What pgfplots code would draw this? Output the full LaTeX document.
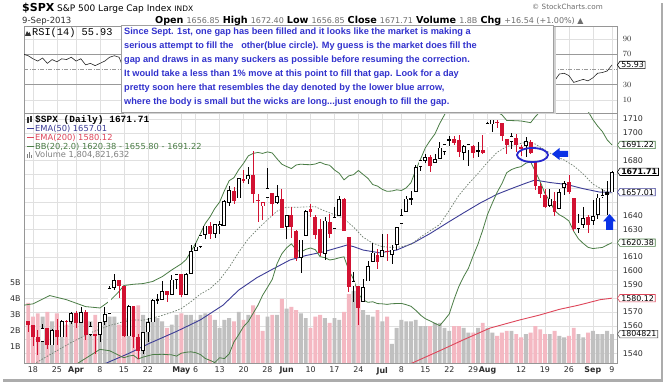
\documentclass[border=0pt]{standalone}
\usepackage{fontspec}
\setmainfont{DejaVu Sans}
\newfontfamily\arial{Liberation Sans}
\newfontfamily\cour{Liberation Mono}
\usepackage{pgfplots}
\pgfplotsset{compat=1.18}
\usepackage{pgfplotstable}
\usetikzlibrary{shapes.symbols}
\newcommand{\fs}[1]{\fontsize{#1}{#1}\selectfont}
\definecolor{gridc}{RGB}{224,224,224}
\definecolor{framec}{RGB}{150,150,150}
\definecolor{candred}{RGB}{210,18,50}
\definecolor{volpink}{RGB}{244,184,194}
\definecolor{volgray}{RGB}{192,192,192}
\definecolor{emablue}{RGB}{60,60,150}
\definecolor{emared}{RGB}{222,70,90}
\definecolor{bbgreen}{RGB}{75,125,70}
\definecolor{midc}{RGB}{110,125,110}
\definecolor{annblue}{RGB}{50,50,205}
\definecolor{labc}{RGB}{45,45,45}
\definecolor{valc}{RGB}{110,110,110}
\definecolor{arrowblue}{RGB}{10,50,230}
\definecolor{ringblue}{RGB}{40,40,205}

% hollow black candles (close>open, close>=prev close)
\pgfplotstableread{
i o h l c v
2 1548.34 1561.56 1548.34 1558.71 2.9
4 1545.90 1557.74 1545.90 1556.89 2.6
6 1551.69 1563.95 1551.69 1563.77 2.6
8 1562.86 1570.28 1561.08 1569.19 2.9
10 1562.17 1573.66 1562.17 1570.25 2.6
12 1553.69 1562.60 1552.52 1559.98 2.6
14 1553.26 1563.07 1548.63 1563.07 2.4
15 1563.11 1573.89 1560.92 1568.61 2.6
16 1568.61 1589.07 1568.61 1587.73 2.9
17 1587.73 1597.35 1586.17 1593.37 2.9
20 1552.36 1575.35 1552.36 1574.57 2.8
23 1541.61 1555.89 1539.40 1555.25 3.0
24 1555.25 1565.55 1548.19 1562.50 2.6
25 1562.50 1579.58 1562.50 1578.78 3.1
26 1578.78 1583.00 1575.80 1578.79 2.8
27 1578.78 1592.64 1578.78 1585.16 2.6
29 1582.34 1596.65 1582.34 1593.61 2.4
30 1593.58 1597.57 1586.50 1597.57 3.0
32 1582.77 1598.60 1582.77 1597.59 3.0
33 1597.60 1618.46 1597.60 1614.42 3.0
34 1614.40 1619.77 1614.21 1617.50 2.7
35 1617.55 1626.03 1616.64 1625.96 3.0
36 1625.95 1632.78 1622.70 1632.69 3.1
38 1626.69 1633.70 1623.71 1633.70 2.7
39 1632.10 1636.00 1626.74 1633.77 2.2
40 1632.69 1651.10 1632.69 1650.34 2.7
41 1649.13 1661.49 1646.68 1658.78 2.8
43 1652.45 1667.47 1652.45 1667.47 3.2
45 1666.20 1674.93 1662.67 1669.16 3.0
49 1652.63 1674.21 1652.63 1660.06 2.9
51 1649.14 1661.91 1648.61 1654.41 3.0
53 1631.71 1640.42 1622.72 1640.42 3.4
56 1609.29 1622.56 1598.23 1622.56 3.1
57 1625.27 1644.40 1625.27 1643.38 2.8
61 1612.15 1639.25 1608.07 1636.36 2.8
63 1630.64 1646.50 1630.34 1639.04 2.8
64 1639.77 1654.19 1639.77 1651.81 2.7
67 1588.62 1599.19 1577.70 1592.43 4.5
69 1577.52 1593.79 1577.09 1588.03 3.3
70 1592.27 1606.83 1592.27 1603.26 3.0
71 1606.44 1620.07 1606.44 1613.20 2.9
73 1609.78 1626.61 1609.78 1614.96 2.6
75 1611.48 1618.97 1604.57 1615.41 1.2
76 1618.65 1632.07 1614.71 1631.89 2.2
77 1634.20 1644.68 1634.20 1640.46 2.7
78 1642.89 1654.18 1642.89 1652.32 2.6
79 1651.56 1657.92 1647.66 1652.62 2.6
80 1657.41 1676.63 1657.41 1675.02 2.7
81 1675.26 1680.19 1672.33 1680.19 2.3
82 1679.59 1684.51 1677.89 1682.50 2.3
84 1677.91 1684.75 1677.91 1680.91 2.5
85 1681.05 1693.12 1681.05 1689.37 2.5
86 1686.15 1692.09 1684.08 1692.09 2.2
87 1694.41 1697.61 1690.67 1695.53 2.0
90 1685.21 1690.94 1680.07 1690.25 2.2
91 1687.31 1691.85 1676.03 1691.65 1.9
95 1689.42 1707.85 1689.42 1706.87 2.2
96 1706.10 1709.67 1700.68 1709.67 1.9
100 1693.35 1700.18 1688.38 1697.48 2.0
103 1690.65 1696.81 1682.62 1694.16 1.8
108 1646.81 1658.92 1646.08 1652.35 1.8
110 1645.03 1659.55 1645.03 1656.96 1.7
111 1659.92 1664.85 1654.81 1663.50 1.6
114 1630.25 1641.18 1627.47 1634.96 1.8
115 1633.50 1646.41 1630.88 1638.17 1.6
117 1635.95 1651.35 1633.41 1639.77 2.0
118 1640.72 1655.72 1637.41 1653.08 1.8
119 1653.28 1659.17 1653.07 1655.08 1.8
121 1656.85 1672.40 1656.85 1671.71 1.80
}\tHB

% filled red candles (close<open, close<prev close)
\pgfplotstableread{
i o h l c v
-1 1563.21 1563.62 1555.74 1560.70 3.75
0 1560.70 1560.70 1545.13 1552.10 2.9
1 1552.10 1557.25 1538.57 1548.34 3.1
3 1558.71 1558.71 1543.55 1545.80 3.2
5 1556.89 1564.91 1546.22 1551.69 3.1
7 1563.75 1564.07 1551.90 1562.85 2.4
9 1569.18 1570.57 1558.47 1562.17 2.5
11 1570.25 1571.47 1549.80 1553.69 3.1
13 1553.69 1553.69 1539.50 1553.28 3.0
18 1593.30 1593.30 1579.97 1588.85 2.4
19 1588.84 1588.84 1552.28 1552.36 3.2
21 1574.57 1574.57 1543.69 1552.01 3.5
22 1552.03 1554.38 1536.03 1541.61 3.6
28 1585.03 1585.03 1577.56 1582.24 2.2
31 1597.55 1597.55 1581.28 1582.70 3.1
37 1632.69 1635.01 1623.09 1626.67 3.0
42 1658.07 1660.51 1648.60 1650.47 2.6
46 1669.39 1687.18 1648.86 1655.35 3.6
47 1651.62 1655.50 1635.53 1650.51 3.0
50 1656.57 1656.57 1640.05 1648.36 3.0
52 1652.13 1658.99 1630.74 1630.74 4.0
54 1640.73 1646.53 1623.62 1631.38 3.5
55 1629.05 1629.31 1607.09 1608.90 3.3
58 1644.67 1648.69 1639.26 1642.81 2.2
59 1638.64 1640.13 1622.92 1626.13 2.9
60 1629.94 1637.71 1610.92 1612.52 3.0
62 1635.52 1640.80 1623.96 1626.73 2.5
65 1651.83 1652.45 1628.91 1628.93 3.2
66 1624.62 1624.62 1584.32 1588.19 4.3
68 1588.77 1588.77 1560.33 1573.09 4.0
72 1611.12 1615.94 1601.06 1606.28 3.3
74 1614.29 1626.43 1606.73 1614.08 2.9
83 1682.70 1683.73 1671.84 1676.26 2.3
88 1695.42 1697.86 1691.38 1692.39 2.3
89 1695.00 1698.38 1682.57 1685.94 2.3
92 1690.32 1690.92 1681.86 1685.33 1.9
94 1687.76 1698.43 1684.94 1685.73 2.5
97 1708.01 1709.24 1703.55 1707.14 1.7
98 1707.34 1707.34 1694.17 1697.37 1.9
99 1695.30 1695.30 1684.91 1690.91 2.0
101 1696.10 1699.42 1686.02 1691.42 1.8
104 1693.35 1695.05 1684.87 1685.39 1.9
105 1679.61 1679.61 1658.59 1661.32 2.3
106 1661.22 1663.60 1652.61 1655.83 2.1
107 1655.25 1659.18 1645.84 1646.06 1.8
109 1650.66 1656.99 1639.43 1642.80 2.0
112 1664.29 1669.51 1656.02 1656.78 1.7
113 1652.54 1652.54 1629.05 1630.48 2.2
116 1638.89 1640.08 1627.47 1632.97 1.9
}\tRF

% hollow red candles
\pgfplotstableread{
i o h l c v
44 1665.71 1672.84 1663.52 1666.29 2.7
48 1646.67 1649.78 1636.88 1649.60 2.0
102 1688.37 1691.49 1683.35 1689.47 1.6
}\tHR

% filled black candles
\pgfplotstableread{
i o h l c v
93 1687.92 1693.19 1682.42 1685.96 2.2
120 1657.44 1664.83 1640.62 1655.17 2.0
}\tFB

\pgfplotsset{
 panel/.style={scale only axis, anchor=south west, width=593pt, xmin=-1.88, xmax=122.05, clip mode=individual},
 ebar/.style 2 args={draw=none, mark=none, forget plot, error bars/.cd, y dir=both, y explicit, error mark=none, error bar style={draw=#1, line width=#2}},
 vbar/.style={ybar, bar width=3.9pt, bar shift=0pt, fill=#1, draw=none, forget plot},
}
\tikzset{
 tag/.style={shape=signal, signal to=west, signal pointer angle=110, draw=#1, fill=white, line width=0.6pt, inner xsep=1.3pt, inner ysep=0.7pt, font=\fs{7.9}, anchor=west, text=black},
}
\newcommand{\xt}{0,5,9,14,19,24,31,34,39,44,49,53,58,63,68,73,77,82,87,92,95,102,107,112,117,121}

\begin{document}
\begin{tikzpicture}
\path[use as bounding box] (0pt,0pt) rectangle (664pt,382pt);
\fill[white] (0pt,0pt) rectangle (664pt,382pt);

% ---------- price grid & labels
\begin{axis}[panel, at={(24pt,19pt)}, height=250pt, ymin=1533.1, ymax=1714.4,
 ytick={1540,1550,...,1710}, yticklabel pos=right,
 yticklabels={1540,,1560,1570,,1590,1600,1610,,1630,1640,,,,1680,,1700,1710},
 xtick/.expanded={\xt},
 xticklabels={18,25,\textbf{Apr},8,15,22,\textbf{May},6,13,20,28,\textbf{Jun},10,17,24,\textbf{Jul},8,15,22,29,\textbf{Aug},12,19,26,\textbf{Sep},9},
 xmajorgrids, ymajorgrids, grid style={gridc, line width=0.5pt},
 major tick length=0pt, axis line style={framec, line width=0.6pt},
 tick label style={font=\fs{7.9}, text=labc},
 yticklabel style={xshift=2.3pt}, xticklabel style={yshift=-0.5pt}]
\addplot[draw=none, forget plot] coordinates {(0,1600)};
\end{axis}

% ---------- volume
\begin{axis}[panel, at={(24pt,19pt)}, height=250pt, ymin=0, ymax=15.625,
 axis line style={draw=none}, xtick=\empty, ytick={1,2,3,4,5}, yticklabels={1B,2B,3B,4B,5B},
 major tick length=0pt, tick label style={font=\fs{7.9}, text=labc}]
\addplot[vbar=volgray] table[x=i, y=v]{\tHB};
\addplot[vbar=volgray] table[x=i, y=v]{\tFB};
\addplot[vbar=volpink] table[x=i, y=v]{\tRF};
\addplot[vbar=volpink] table[x=i, y=v]{\tHR};
\node[tag=gray!70!black] at (axis cs:122.05,1.8048) {1804821};
\end{axis}

% ---------- price data
\begin{axis}[panel, at={(24pt,19pt)}, height=250pt, ymin=1533.1, ymax=1714.4, hide axis]
\addplot[emared, line width=0.9pt] coordinates {(70,1522) (75,1528) (79.2,1533) (85,1542) (90,1550) (95.5,1558.4) (101.6,1564.2) (106,1568) (110,1572) (114,1575) (118.5,1579) (121,1580.12)};
\addplot[emablue, line width=0.9pt] coordinates {(-2,1519) (5,1525) (10,1529) (15.3,1533) (20,1540) (24.5,1547.6) (30,1556) (34.9,1564.2) (39.7,1575) (43,1586) (46.8,1595) (50,1601) (53.7,1607.8) (57,1611) (60.6,1613.6) (63,1616) (65.6,1618.6) (67,1617.5) (69,1615) (72.5,1613) (76,1615) (79.4,1620) (83,1627) (86.5,1634.6) (90,1642) (93.4,1649) (97,1655.5) (100.3,1660) (103,1663.5) (104.9,1665.8) (108,1664) (111.6,1662.5) (115,1659.5) (118.5,1657) (121,1657.01)};
\addplot[bbgreen, line width=0.8pt] coordinates {(-2,1575) (0,1576) (3.5,1582) (7,1579) (11,1574) (14,1573) (16,1578) (18,1585) (19,1589.3) (21,1590.2) (23,1590.7) (25,1592.2) (27,1595.7) (29,1600.6) (31,1605.0) (32,1608.1) (33,1613.9) (34,1619.9) (35,1627.0) (36,1634.3) (37,1639.1) (38,1645.2) (39,1649.8) (40,1658.0) (41,1665.3) (42,1667.5) (43,1673.3) (44,1677.9) (45,1683.3) (46,1685.1) (47,1685.8) (48,1685.1) (49,1686.2) (50,1685.4) (51,1681.2) (52,1677.3) (53,1675.6) (54,1674.1) (55,1676.7) (56,1677.3) (57,1677.0) (58,1676.9) (59,1677.4) (60,1678.7) (61,1677.2) (62,1676.5) (63,1673.1) (64,1670.7) (65,1665.9) (66,1668.8) (67,1669.7) (68,1672.7) (69,1669.8) (70,1667.0) (71,1662.5) (72,1661.4) (73,1659.0) (74,1657.6) (75,1657.8) (76,1658.7) (77,1658.2) (78,1660.1) (79,1663.9) (80,1673.1) (81,1681.0) (82,1689.2) (83,1694.5) (84,1699.2) (85,1706.8) (86,1713.1) (87,1719.0) (88,1720.4) (89,1720.9) (90,1722.5) (91,1724.2) (92,1723.0) (93,1721.7) (94,1718.6) (95,1716.4) (96,1716.0) (97,1714.9) (98,1713.1) (99,1709.0) (100,1708.9) (101,1708.8) (102,1708.6) (103,1708.0) (104,1707.4) (105,1711.8) (106,1715.4) (107,1719.1) (108,1720.5) (109,1723.0) (110,1722.8) (111,1721.8) (112,1721.6) (113,1723.6) (114,1724.0) (115,1720.4) (116,1715.6) (117,1709.7) (118,1704.9) (119,1700.9) (120,1694.9) (121,1691.22)};
\addplot[midc, line width=0.7pt, dash pattern=on 1.5pt off 1.5pt] coordinates {(-2,1528) (0,1532) (4,1540) (8,1548) (12,1555) (16,1560.3) (19,1563.1) (21,1564.4) (23,1564.1) (25,1565.7) (27,1567.6) (29,1569.8) (31,1572.6) (33,1577.5) (35,1583.1) (37,1587.0) (39,1593.4) (41,1602.5) (43,1613.5) (45,1623.2) (47,1630.3) (49,1637.0) (51,1643.2) (53,1646.1) (55,1646.0) (57,1646.3) (59,1646.4) (61,1643.3) (63,1640.7) (65,1638.0) (66,1634.6) (67,1631.7) (68,1627.9) (69,1624.3) (70,1622.1) (71,1620.0) (73,1617.5) (75,1617.0) (77,1617.3) (79,1619.1) (81,1624.4) (83,1629.0) (85,1633.5) (87,1643.9) (89,1654.7) (91,1663.0) (93,1670.5) (95,1678.7) (97,1685.9) (99,1690.1) (101,1691.7) (103,1693.0) (104,1693.2) (105,1691.8) (107,1687.5) (109,1683.4) (111,1680.3) (113,1676.1) (115,1670.1) (117,1662.9) (119,1658.9) (120,1656.8) (121,1655.8)};
\addplot[bbgreen, line width=0.8pt] coordinates {(-2,1482) (0,1487) (5,1515) (9.4,1533) (14,1543) (16,1542) (19,1536.9) (20,1538.1) (21,1538.7) (22,1536.0) (23,1537.4) (25,1539.2) (27,1539.4) (29,1539.0) (30,1538.1) (31,1540.2) (32,1540.9) (33,1541.2) (34,1540.6) (35,1539.2) (36,1536.4) (37,1535.0) (38,1533.4) (39,1536.9) (40,1536.3) (41,1539.7) (42,1548.4) (43,1553.7) (44,1559.5) (45,1563.2) (46,1569.1) (47,1574.9) (48,1582.3) (49,1587.9) (50,1593.7) (51,1605.1) (52,1612.3) (53,1616.6) (54,1619.5) (55,1615.2) (56,1613.6) (57,1615.5) (58,1616.5) (59,1615.3) (60,1610.2) (61,1609.5) (62,1607.8) (63,1608.4) (64,1609.4) (65,1610.1) (66,1600.4) (67,1593.8) (68,1583.1) (69,1578.9) (70,1577.1) (71,1577.5) (72,1576.2) (73,1576.0) (74,1575.6) (75,1576.1) (76,1576.2) (77,1576.3) (78,1575.4) (79,1574.2) (80,1571.3) (81,1567.8) (82,1565.2) (83,1563.6) (84,1561.8) (85,1560.2) (86,1564.3) (87,1568.7) (88,1579.3) (89,1588.6) (90,1595.7) (91,1601.8) (92,1610.9) (93,1619.3) (94,1629.6) (95,1640.9) (96,1649.1) (97,1656.9) (98,1663.2) (99,1671.1) (100,1673.4) (101,1674.7) (102,1675.5) (103,1678.0) (104,1679.0) (105,1671.8) (106,1664.6) (107,1655.9) (108,1650.6) (109,1643.7) (110,1640.6) (111,1638.7) (112,1636.1) (113,1628.6) (114,1623.1) (115,1619.8) (116,1617.0) (117,1616.1) (118,1616.5) (119,1616.9) (120,1618.7) (121,1620.38)};
% wicks
\addplot[ebar={black}{0.65pt}] table[x=i, y expr={(\thisrow{h}+\thisrow{l})/2}, y error expr={(\thisrow{h}-\thisrow{l})/2}]{\tHB};
\addplot[ebar={black}{0.65pt}] table[x=i, y expr={(\thisrow{h}+\thisrow{l})/2}, y error expr={(\thisrow{h}-\thisrow{l})/2}]{\tFB};
\addplot[ebar={candred}{0.65pt}] table[x=i, y expr={(\thisrow{h}+\thisrow{l})/2}, y error expr={(\thisrow{h}-\thisrow{l})/2}]{\tRF};
\addplot[ebar={candred}{0.65pt}] table[x=i, y expr={(\thisrow{h}+\thisrow{l})/2}, y error expr={(\thisrow{h}-\thisrow{l})/2}]{\tHR};
% bodies
\addplot[ebar={candred}{3.8pt}] table[x=i, y expr={(\thisrow{o}+\thisrow{c})/2}, y error expr={max(abs(\thisrow{c}-\thisrow{o})/2,0.4)}]{\tRF};
\addplot[ebar={black}{3.8pt}] table[x=i, y expr={(\thisrow{o}+\thisrow{c})/2}, y error expr={max(abs(\thisrow{c}-\thisrow{o})/2,0.4)}]{\tFB};
\addplot[ebar={black}{3.8pt}] table[x=i, y expr={(\thisrow{o}+\thisrow{c})/2}, y error expr={max(abs(\thisrow{c}-\thisrow{o})/2,0.4)}]{\tHB};
\addplot[ebar={white}{2.2pt}] table[x=i, y expr={(\thisrow{o}+\thisrow{c})/2}, y error expr={max(abs(\thisrow{c}-\thisrow{o})/2-0.6,0)}]{\tHB};
\addplot[ebar={candred}{3.8pt}] table[x=i, y expr={(\thisrow{o}+\thisrow{c})/2}, y error expr={max(abs(\thisrow{c}-\thisrow{o})/2,0.4)}]{\tHR};
\addplot[ebar={white}{2.2pt}] table[x=i, y expr={(\thisrow{o}+\thisrow{c})/2}, y error expr={max(abs(\thisrow{c}-\thisrow{o})/2-0.6,0)}]{\tHR};
\node[tag=bbgreen] at (axis cs:122.05,1691.22) {1691.22};
\node[tag=black, font=\fs{7.9}\bfseries] at (axis cs:122.05,1671.71) {1671.71};
\node[tag=emablue] at (axis cs:122.05,1657.01) {1657.01};
\node[tag=bbgreen] at (axis cs:122.05,1620.38) {1620.38};
\node[tag=emared] at (axis cs:122.05,1580.12) {1580.12};
\end{axis}

% ---------- RSI
\begin{axis}[panel, at={(24pt,269pt)}, height=87pt, ymin=-7.1, ymax=107,
 ytick={10,30,70,90}, yticklabel pos=right,
 xtick/.expanded={\xt}, xticklabels={},
 xmajorgrids, ymajorgrids, grid style={gridc, line width=0.5pt},
 major tick length=0pt, axis line style={framec, line width=0.6pt},
 tick label style={font=\fs{7.9}, text=labc}, yticklabel style={xshift=2.3pt}]
\addplot[gray!80, line width=0.6pt, forget plot] coordinates {(-1.88,70) (122.05,70)};
\addplot[gray!80, line width=0.6pt, forget plot] coordinates {(-1.88,30) (122.05,30)};
\addplot[gray!80, line width=0.6pt, dash pattern=on 4pt off 1.5pt on 1pt off 1.5pt, forget plot] coordinates {(-1.88,50) (122.05,50)};
\addplot[black!85, line width=0.6pt] coordinates {(-2,70) (-1,68) (0,64) (1,61) (2,65) (3,58) (4,63) (5,60) (6,64) (7,63) (8,66) (9,61) (10,64) (11,56) (12,58) (13,55) (14,58) (15,61) (16,66) (17,68) (18,66) (19,50) (20,55)};
\addplot[black!85, line width=0.6pt] coordinates {(99,55) (100,58) (101,54) (102,53) (103,56) (104,50) (105,38) (106,36) (107,33) (108,37) (109,35) (110,44) (111,45) (112,42) (113,33) (114,35) (115,37) (116,35) (117,39) (118,45) (119,46) (120,48) (121,55.93)};
\node[tag=black] at (axis cs:122.05,55.93) {55.93};
\end{axis}

% ---------- annotation box
\fill[gray!35] (123.5pt,267.5pt) rectangle (555.5pt,354.5pt);
\draw[gray!75, fill=white, line width=0.6pt] (121pt,270pt) rectangle (553pt,357pt);
\begin{scope}[every node/.style={anchor=base west, inner sep=0pt, text=annblue, font=\arial\bfseries\fs{9.2}}]
\node at (124pt,347pt) {Since Sept. 1st, one gap has been filled and it looks like the market is making a};
\node at (124pt,333pt) {serious attempt to fill the\ \ \ other(blue circle). My guess is the market does fill the};
\node at (124pt,319pt) {gap and draws in as many suckers as possible before resuming the correction.};
\node at (124pt,305pt) {It would take a less than 1\% move at this point to fill that gap. Look for a day};
\node at (124pt,291pt) {pretty soon here that resembles the day denoted by the lower blue arrow,};
\node at (124pt,277pt) {where the body is small but the wicks are long...just enough to fill the gap.};
\end{scope}

% ---------- header
\node[anchor=base west, inner sep=0pt] at (22pt,370pt) {\fs{11}\bfseries\$SPX};
\node[anchor=base west, inner sep=0pt] at (57pt,370pt) {\fs{9}S\&P 500 Large Cap Index \fs{7.5}INDX};
\node[anchor=base west, inner sep=0pt, text=labc] at (22pt,358.5pt) {\fs{8.5}9-Sep-2013};
\node[anchor=base west, inner sep=0pt] at (155pt,358.5pt) {\fs{9.6}\textbf{Open} \textcolor{valc}{\fs{8}1656.85} \textbf{High} \textcolor{valc}{\fs{8}1672.40} \textbf{Low} \textcolor{valc}{\fs{8}1656.85} \textbf{Close} \textcolor{valc}{\fs{8}1671.71} \textbf{Volume} \textcolor{valc}{\fs{8}1.8B} \textbf{Chg} \textcolor{valc}{\fs{8}+16.54 (+1.00\%) ▲}};
\node[anchor=base west, inner sep=0pt, text=valc] at (532pt,372pt) {\fs{7.2}© StockCharts.com};

% ---------- RSI label
\fill[black!80] (25pt,346pt) -- (27pt,351pt) -- (28.5pt,348.5pt) -- (29.5pt,350pt) -- (31pt,346pt) -- cycle;
\node[anchor=base west, inner sep=0pt] at (32pt,346pt) {\cour\fs{10.3}RSI(14) 55.93};

% ---------- price legend
\fill[black!80] (27pt,259pt) rectangle (28.5pt,265pt);
\fill[black!80] (30pt,260pt) rectangle (31.5pt,266pt);
\node[anchor=base west, inner sep=0pt] at (35pt,259pt) {\cour\bfseries\fs{9.5}\$SPX (Daily) 1671.71};
\draw[emablue, line width=1.3pt] (27pt,253.3pt) -- (34pt,253.3pt);
\node[anchor=base west, inner sep=0pt, text=emablue] at (35pt,250.5pt) {\fs{8.3}EMA(50) 1657.01};
\draw[emared, line width=1.3pt] (27pt,244.3pt) -- (34pt,244.3pt);
\node[anchor=base west, inner sep=0pt, text=emared] at (35pt,241.5pt) {\fs{8.3}EMA(200) 1580.12};
\draw[bbgreen, line width=1.3pt] (27pt,235.3pt) -- (34pt,235.3pt);
\node[anchor=base west, inner sep=0pt, text=bbgreen] at (35pt,232.5pt) {\fs{8.3}BB(20,2.0) 1620.38 - 1655.80 - 1691.22};
\fill[gray] (27pt,224pt) rectangle (28.3pt,228pt);
\fill[gray] (29pt,224pt) rectangle (30.3pt,230pt);
\fill[gray] (31pt,224pt) rectangle (32.3pt,227pt);
\node[anchor=base west, inner sep=0pt, text=gray] at (35pt,224pt) {\fs{8.3}Volume 1,804,821,632};

% ---------- blue annotations
\draw[ringblue, line width=1.8pt] (532.5pt,227pt) ellipse [x radius=15.5pt, y radius=7pt];
\fill[arrowblue] (552pt,228pt) -- (559.5pt,234pt) -- (559.5pt,231pt) -- (568pt,231pt) -- (568pt,225pt) -- (559.5pt,225pt) -- (559.5pt,222pt) -- cycle;
\fill[arrowblue] (609.5pt,168pt) -- (616pt,160.5pt) -- (613pt,160.5pt) -- (613pt,152pt) -- (606pt,152pt) -- (606pt,160.5pt) -- (603pt,160.5pt) -- cycle;

% ---------- outer frame shadow
\fill[gray!65] (660.5pt,0pt) rectangle (663pt,379pt);
\fill[gray!65] (3pt,0pt) rectangle (663pt,2.5pt);
\end{tikzpicture}
\end{document}
